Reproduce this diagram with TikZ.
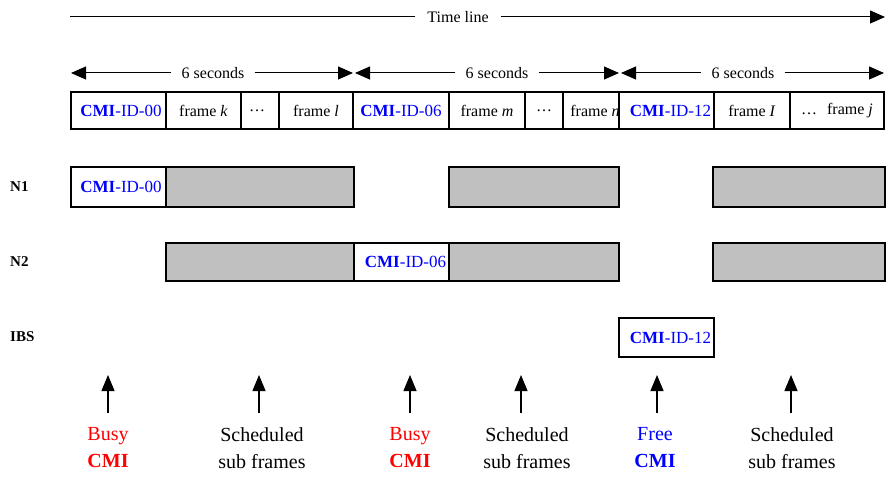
\documentclass[tikz,border=0pt]{standalone}
\usepackage{fontspec}
\setmainfont{Liberation Serif}
\usetikzlibrary{arrows.meta}
\definecolor{cmiblue}{RGB}{0,0,255}
\definecolor{busyred}{RGB}{255,0,0}
\definecolor{slotgrey}{RGB}{192,192,192}
\newcommand{\cmiid}[1]{{\color{cmiblue}\textbf{CMI}-ID-#1}}
\begin{document}
\begin{tikzpicture}[x=1pt,y=-1pt,
  txt/.style={font=\fontsize{16}{19}\selectfont, inner sep=0pt},
  cell/.style={draw=black, line width=1.1pt, rectangle, inner sep=0pt,
    font=\fontsize{16}{19}\selectfont, minimum height=37pt},
  slot/.style={draw=black, line width=1.1pt, rectangle, inner sep=0pt,
    fill=slotgrey},
  wslot/.style={draw=black, line width=1.1pt, rectangle, inner sep=0pt,
    fill=white, font=\fontsize{17}{20}\selectfont},
  rowlab/.style={font=\fontsize{15}{18}\selectfont\bfseries, inner sep=0pt, anchor=west},
  span/.style={line width=1pt, {Triangle[length=15pt,width=13pt]}-{Triangle[length=15pt,width=13pt]}},
  tline/.style={line width=1pt, -{Triangle[length=15pt,width=13pt]}},
  uparrow/.style={line width=1.2pt, -{Triangle[length=16pt,width=13pt]}},
  bottom/.style={font=\fontsize{20}{27}\selectfont, align=center, inner sep=0pt}
]
\useasboundingbox (0,0) rectangle (886,481);

% time line
\coordinate (tl0) at (70,17);
\coordinate (tl1) at (885,17);
\node[txt, fill=white, inner xsep=12pt] (tlab) at (458,17) {Time line};
\draw[line width=1pt] (tl0) -- (tlab.west);
\draw[tline] (tlab.east) -- (tl1);

% 6 second spans
\coordinate (s0) at (71,73);
\coordinate (s1) at (353,73);
\coordinate (s1b) at (355,73);
\coordinate (s2) at (619,73);
\coordinate (s2b) at (621,73);
\coordinate (s3) at (884,73);
\node[txt, fill=white, inner xsep=10pt] (sec1) at (213,73) {6 seconds};
\node[txt, fill=white, inner xsep=10pt] (sec2) at (497,73) {6 seconds};
\node[txt, fill=white, inner xsep=10pt] (sec3) at (743,73) {6 seconds};
\draw[line width=1pt, {Triangle[length=15pt,width=13pt]}-] (s0) -- (sec1.west);
\draw[line width=1pt, -{Triangle[length=15pt,width=13pt]}] (sec1.east) -- (s1);
\draw[line width=1pt, {Triangle[length=15pt,width=13pt]}-] (s1b) -- (sec2.west);
\draw[line width=1pt, -{Triangle[length=15pt,width=13pt]}] (sec2.east) -- (s2);
\draw[line width=1pt, {Triangle[length=15pt,width=13pt]}-] (s2b) -- (sec3.west);
\draw[line width=1pt, -{Triangle[length=15pt,width=13pt]}] (sec3.east) -- (s3);

% frame row (top 92, bottom 129)
\node[cell, minimum width=95pt, font=\fontsize{17}{20}\selectfont] (c1) at (118.5,110.5) {\hspace{5pt}\cmiid{00}};
\node[cell, minimum width=75pt] (c2) at (203.5,110.5) {frame \textit{k}};
\node[cell, minimum width=38pt] (c3) at (260,110.5) {\hspace{-6pt}\ldots};
\node[cell, minimum width=74pt] (c4) at (316,110.5) {frame \textit{l}};
\node[cell, minimum width=96pt, font=\fontsize{17}{20}\selectfont] (c5) at (401,110.5) {\cmiid{06}\hspace{10pt}};
\node[cell, minimum width=76pt] (c6) at (487,110.5) {frame \textit{m}};
\node[cell, minimum width=38pt] (c7) at (544,110.5) {\ldots};
\node[cell, minimum width=56pt] (c8) at (591,110.5) {\hspace{8pt}frame \textit{n}};
\node[cell, minimum width=95pt, font=\fontsize{17}{20}\selectfont] (c9) at (666.5,110.5) {\hspace{8pt}\cmiid{12}};
\node[cell, minimum width=76pt] (c10) at (752,110.5) {frame \textit{I}};
\node[cell, minimum width=94pt] (c11) at (837,110.5) {\ldots\hspace{10pt}frame \textit{j}};

% N1 row
\node[rowlab] (lN1) at (10,187) {N1};
\node[wslot, minimum width=95pt, minimum height=40pt] (n1a) at (118.5,187) {\hspace{5pt}\cmiid{00}};
\node[slot, minimum width=188pt, minimum height=40pt] (n1b) at (260,187) {};
\node[slot, minimum width=170pt, minimum height=40pt] (n1c) at (534,187) {};
\node[slot, minimum width=172pt, minimum height=40pt] (n1d) at (799,187) {};

% N2 row
\node[rowlab] (lN2) at (10,262) {N2};
\node[slot, minimum width=188pt, minimum height=38pt] (n2a) at (260,262) {};
\node[wslot, minimum width=95pt, minimum height=38pt] (n2b) at (401.5,262) {\hspace{8pt}\cmiid{06}};
\node[slot, minimum width=170pt, minimum height=38pt] (n2c) at (534,262) {};
\node[slot, minimum width=172pt, minimum height=38pt] (n2d) at (799,262) {};

% IBS row
\node[rowlab] (lIBS) at (10,337) {IBS};
\node[wslot, minimum width=95pt, minimum height=39pt] (ibs) at (666.5,337.5) {\hspace{8pt}\cmiid{12}};

% bottom labels and arrows
\node[bottom] (b1) at (108,448) {{\color{busyred}Busy}\\{\color{busyred}\textbf{CMI}}};
\node[bottom] (b2) at (262,448) {Scheduled\\sub frames};
\node[bottom] (b3) at (410,448) {{\color{busyred}Busy}\\{\color{busyred}\textbf{CMI}}};
\node[bottom] (b4) at (527,448) {Scheduled\\sub frames};
\node[bottom] (b5) at (655,448) {{\color{cmiblue}Free}\\{\color{cmiblue}\textbf{CMI}}};
\node[bottom] (b6) at (792,448) {Scheduled\\sub frames};

\foreach \n/\x in {a1/108, a2/259, a3/410, a4/521, a5/657, a6/791}{
  \coordinate (\n t) at (\x,413);
  \coordinate (\n h) at (\x,375);
  \draw[uparrow] (\n t) -- (\n h);
}
\end{tikzpicture}
\end{document}
